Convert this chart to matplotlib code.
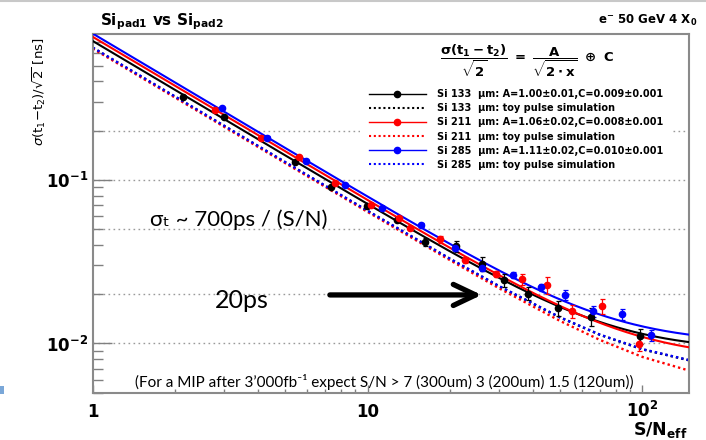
import numpy as np
import matplotlib
matplotlib.use('Agg')
import matplotlib.pyplot as plt
from matplotlib.lines import Line2D
from matplotlib.patches import Rectangle
from matplotlib.ticker import FixedLocator, FixedFormatter, NullFormatter

plt.rcParams['font.family'] = ['DejaVu Sans']
plt.rcParams['mathtext.fontset'] = 'custom'
plt.rcParams['mathtext.rm'] = 'DejaVu Sans:bold'
plt.rcParams['mathtext.it'] = 'DejaVu Sans:bold'
plt.rcParams['mathtext.bf'] = 'DejaVu Sans:bold'
plt.rcParams['mathtext.sf'] = 'DejaVu Sans:bold'

# ---------------- data ----------------
x_133 = [2.13, 3.01, 5.44, 7.34, 9.97, 12.8, 16.2, 20.9, 26.1, 31.3, 38.2, 49.1, 64.9, 97.8]
y_133 = [0.321, 0.241, 0.129, 0.091, 0.0693, 0.0569, 0.0418, 0.0394, 0.0306, 0.0244, 0.0202, 0.0164, 0.01456, 0.0111]
e_133 = [0.004, 0.003, 0.002, 0.0015, 0.0012, 0.0012, 0.0025, 0.003, 0.003, 0.0022, 0.0018, 0.0017, 0.0018, 0.0012]

x_211 = [2.79, 4.09, 5.64, 7.61, 10.3, 13.0, 14.25, 18.3, 22.6, 29.3, 36.5, 44.8, 55.2, 71.5, 97.0]
y_211 = [0.266, 0.180, 0.139, 0.0963, 0.0703, 0.0583, 0.0506, 0.0433, 0.0324, 0.0266, 0.0247, 0.0228, 0.0158, 0.0169, 0.0099]
e_211 = [0.004, 0.003, 0.002, 0.0015, 0.0012, 0.001, 0.001, 0.002, 0.0012, 0.0012, 0.002, 0.0028, 0.0015, 0.0018, 0.0009]

x_285 = [2.95, 4.32, 5.97, 8.27, 11.3, 15.7, 20.8, 26.0, 33.8, 42.6, 52.2, 65.8, 83.9, 107.8]
y_285 = [0.275, 0.1815, 0.131, 0.0932, 0.0671, 0.053, 0.0382, 0.0288, 0.0262, 0.022, 0.0198, 0.0158, 0.0151, 0.01125]
e_285 = [0.004, 0.003, 0.002, 0.0015, 0.001, 0.0012, 0.0015, 0.0012, 0.0012, 0.0012, 0.0014, 0.0012, 0.0012, 0.0009]

# fit parameters (from legend): sigma = sqrt((A/(sqrt2 x))^2 + C^2)
fit_A = [1.00, 1.06, 1.11]
fit_C = [0.009, 0.008, 0.010]

# toy pulse simulation curves
toy_x = [1, 2, 5, 10, 20, 30, 50, 70, 100, 148]
toy_133 = [0.643, 0.3215, 0.1286, 0.0646, 0.0328, 0.0224, 0.01444, 0.01129, 0.0092, 0.00788]
toy_211 = [0.635, 0.3175, 0.127, 0.0637, 0.0322, 0.0218, 0.01376, 0.01051, 0.00827, 0.00682]
toy_285 = [0.645, 0.3225, 0.129, 0.0648, 0.0329, 0.0225, 0.01449, 0.01133, 0.00923, 0.00791]

legend_labels = [
    'Si 133  µm: A=1.00±0.01,C=0.009±0.001',
    'Si 133  µm: toy pulse simulation',
    'Si 211  µm: A=1.06±0.02,C=0.008±0.001',
    'Si 211  µm: toy pulse simulation',
    'Si 285  µm: A=1.11±0.02,C=0.010±0.001',
    'Si 285  µm: toy pulse simulation',
]
colors = ['black', '#ff0000', '#0000ff']

x_major = [1, 10, 100]
x_major_labels = ['1', '10', r'$\mathdefault{10^{2}}$']
y_major = [0.01, 0.1]
y_major_labels = [r'$\mathdefault{10^{-2}}$', r'$\mathdefault{10^{-1}}$']
grid_levels = [0.2, 0.1, 0.05, 0.02, 0.01]
x_lim = (1, 148)
y_lim = (0.005, 0.78)

# ---------------- layout ----------------
W, H = 706, 440
fig = plt.figure(figsize=(W / 100, H / 100), dpi=100)
fig.patch.set_facecolor('white')
L, R, T, B = 92.7, 689.3, 34.0, 392.7
ax = fig.add_axes([L / W, 1 - B / H, (R - L) / W, (B - T) / H])


def fx(px):
    return px / W


def fy(py):
    return 1 - py / H


ax.set_xscale('log')
ax.set_yscale('log')
ax.set_xlim(*x_lim)
ax.set_ylim(*y_lim)

for lvl in grid_levels:
    ax.axhline(lvl, color='#9a9a9a', lw=1.0, ls=(0, (1.2, 2.4)), zorder=0.5)

series = [(x_133, y_133, e_133, toy_133), (x_211, y_211, e_211, toy_211), (x_285, y_285, e_285, toy_285)]
xf = np.logspace(0, np.log10(x_lim[1]), 400)
for (xs, ys, es, toy), col in zip(series, colors):
    ax.plot(toy_x, toy, color=col, lw=1.7, ls=(0, (1, 1.3)), zorder=2)
for A, C, col in zip(fit_A, fit_C, colors):
    ax.plot(xf, np.sqrt((A / (np.sqrt(2) * xf)) ** 2 + C ** 2), color=col, lw=1.5, zorder=3)
for (xs, ys, es, toy), col in zip(series, colors):
    ax.errorbar(xs, ys, yerr=es, fmt='o', color=col, ms=4.5, elinewidth=0.9,
                capsize=1.8, capthick=0.9, zorder=4)

# ticks
ax.xaxis.set_major_locator(FixedLocator(x_major))
ax.xaxis.set_major_formatter(FixedFormatter(x_major_labels))
ax.xaxis.set_minor_locator(FixedLocator([2, 3, 4, 5, 6, 7, 8, 9, 20, 30, 40, 50, 60, 70, 80, 90]))
ax.xaxis.set_minor_formatter(NullFormatter())
ax.yaxis.set_major_locator(FixedLocator(y_major))
ax.yaxis.set_major_formatter(FixedFormatter(y_major_labels))
ax.yaxis.set_minor_locator(FixedLocator([0.005, 0.006, 0.007, 0.008, 0.009, 0.02, 0.03, 0.04, 0.05,
                                          0.06, 0.07, 0.08, 0.09, 0.2, 0.3, 0.4, 0.5, 0.6, 0.7]))
ax.yaxis.set_minor_formatter(NullFormatter())
ax.tick_params(axis='both', which='both', direction='in', color='#808080', width=1.0,
               top=False, right=False)
ax.tick_params(axis='y', which='major', length=13.7, pad=3, labelsize=12)
ax.tick_params(axis='y', which='minor', length=7.2)
ax.tick_params(axis='x', which='major', length=5.8, pad=17.5, labelsize=12)
ax.tick_params(axis='x', which='minor', length=3.2)
for lab in ax.get_xticklabels() + ax.get_yticklabels():
    lab.set_fontweight('bold')
for lab in ax.get_xticklabels():
    lab.set_va('baseline')

for sp in ax.spines.values():
    sp.set_color('#8a8a8a')
    sp.set_linewidth(1.5)

# legend
handles = []
for col in colors:
    handles.append(Line2D([], [], color=col, marker='o', ms=4.5, lw=1.0))
    handles.append(Line2D([], [], color=col, lw=1.5, ls=(0, (1, 1.3))))
leg = ax.legend(handles, legend_labels, loc='upper left',
                bbox_to_anchor=(fx(360), fy(80.5)), bbox_transform=fig.transFigure,
                frameon=True, fancybox=False, facecolor='white', edgecolor='none', framealpha=1,
                prop={'family': 'DejaVu Sans', 'weight': 'bold', 'size': 7},
                handlelength=5.9, handletextpad=1.1, labelspacing=0.42, borderpad=0.9,
                borderaxespad=0)
formula = r'$\dfrac{\sigma(t_1-t_2)}{\sqrt{2}}\ =\ \dfrac{A}{\sqrt{2\bullet x}}\ \oplus\ C$'
fig.text(fx(527), fy(61), formula, ha='center', va='center', fontsize=9.5, zorder=10)

# axis labels / titles
fig.text(fx(688), fy(420), r'S/N$_{\mathdefault{eff}}$', ha='right', va='top',
         fontsize=12.5, fontweight='bold')
fig.text(fx(39.5), fy(92), r'$\sigma(\mathrm{t}_1\mathrm{-t}_2)/\sqrt{2}\ [\mathrm{ns}]$', rotation=90,
         ha='center', va='center', fontsize=9.5, math_fontfamily='dejavusans')
fig.text(fx(100), fy(25), r'Si$_{\mathdefault{pad1}}$ vs Si$_{\mathdefault{pad2}}$', ha='left',
         va='baseline', fontsize=11, fontweight='bold')
fig.text(fx(697), fy(24), r'e$^{\mathdefault{-}}$ 50 GeV 4 X$_{\mathdefault{0}}$', ha='right',
         va='baseline', fontsize=8.5, fontweight='bold')

# annotations
arrow_start, arrow_end, arrow_y = 7.29, 26.0, 0.0198
ax.annotate('', xy=(arrow_end, arrow_y), xytext=(arrow_start, arrow_y),
            arrowprops=dict(arrowstyle='->,head_length=0.8,head_width=0.38', lw=3.8,
                            color='black', mutation_scale=20, shrinkA=0, shrinkB=0),
            zorder=6)
slide_font = ['Lato', 'DejaVu Sans']
ax.text(1.62, 0.0569, 'σₜ ~ 700ps / (S/N)', family=slide_font, fontsize=16,
        ha='left', va='center', zorder=6)
ax.text(2.785, 0.0184, '20ps', family=slide_font, fontsize=18, ha='left', va='center', zorder=6)
ax.text(1.425, 0.00583, '(For a MIP after 3’000fb⁻¹ expect S/N > 7 (300um) 3 (200um) 1.5 (120um))',
        family=slide_font, fontsize=11, ha='left', va='center', zorder=6)

# slide decorations
fig.add_artist(Line2D([0, 1], [fy(0.8), fy(0.8)], transform=fig.transFigure, color='#c8c8c8', lw=1.5))
fig.add_artist(Rectangle((0, fy(394)), fx(3.5), 8 / H, transform=fig.transFigure,
                         facecolor='#7aa7d8', edgecolor='none'))

fig.savefig('out.png', dpi=100, facecolor='white')
